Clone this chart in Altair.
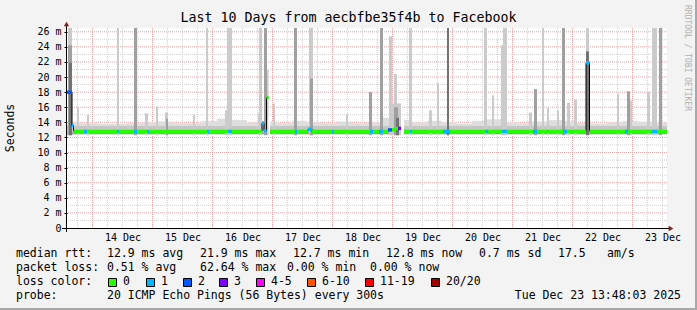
import altair as alt
import pandas as pd

MONO = "DejaVu Sans Mono"

# ---------------- time axis: hours since Sat 13 Dec 2025 13:48 (10 days) ----------------
DAY_LABELS = ["14 Dec", "15 Dec", "16 Dec", "17 Dec", "18 Dec",
              "19 Dec", "20 Dec", "21 Dec", "22 Dec", "23 Dec"]
LABEL_HOURS = [22.2 + 24 * i for i in range(10)]      # noon of each day
MIDNIGHT_HOURS = [10.2 + 24 * i for i in range(10)]   # major grid
SIXH_HOURS = [round(4.2 + 6 * i, 1) for i in range(40)]  # minor grid

# ---------------- smoke: general spread band (6 h bins) ----------------
BAND_TOP = [14.0, 13.9, 13.8, 13.8, 13.9, 14.0, 14.1, 13.9, 13.9, 14.2,
            14.5, 14.3, 14.0, 14.1, 13.9, 14.2, 14.0, 13.9, 14.1, 13.9,
            14.0, 14.6, 14.3, 14.0, 14.2, 14.0, 13.8, 14.2, 14.4, 14.0,
            13.9, 14.1, 14.3, 14.2, 13.9, 13.8, 14.0, 14.2, 14.1, 14.0]
BAND_BOTTOM = 12.3
CORE_BOTTOM = 12.45
CORE_TOP = 13.5

# ---------------- smoke: individual spikes ----------------
SPIKE_START = [0.4, 0.4, 0.8, 4.0, 8.0, 20.0, 26.8, 31.2, 35.6, 39.2, 39.6, 50.4,
               55.6, 63.2, 64.0, 76.4, 76.8, 78.8, 79.8, 82.4, 90.8, 96.8, 97.2,
               111.6, 120.8, 125.2, 128.8, 129.2, 130.8, 130.8, 131.6, 136.8,
               144.8, 148.0, 152.0, 166.8, 170.0, 173.6, 174.4, 184.8, 186.8,
               190.0, 192.0, 196.0, 198.0, 200.0, 202.8, 207.6, 207.6, 220.0,
               224.0, 225.2, 232.0, 234.0, 236.8]
SPIKE_WIDTH = [1.6, 1.6, 1.2, 0.8, 0.8, 0.8, 1.2, 1.2, 0.8, 1.2, 0.8, 0.8,
               0.8, 0.8, 2.0, 0.8, 1.2, 1.2, 0.8, 0.8, 1.2, 1.6, 1.2,
               0.8, 1.2, 1.2, 1.2, 4.4, 1.2, 1.6, 1.2, 1.2,
               1.2, 0.8, 0.8, 1.2, 0.8, 0.8, 1.6, 1.2, 1.2,
               0.8, 0.8, 0.8, 1.2, 1.2, 1.2, 1.2, 1.2, 0.8,
               1.2, 0.8, 1.2, 2.0, 1.2]
SPIKE_TOP = [27, 24.2, 21.9, 16.0, 15.0, 27, 27, 15.2, 16.1, 15.3, 14.5, 15.0,
             27, 15.6, 27, 15.2, 27, 27, 21.0, 16.5, 27, 27, 19.8,
             15.0, 18.0, 27, 25.4, 16.5, 20.4, 16.0, 14.6, 27,
             15.6, 19.2, 27, 27, 17.6, 24.2, 27, 15.3, 18.4,
             27, 15.9, 15.6, 27, 16.6, 17.0, 27, 23.4, 17.8,
             18.1, 16.9, 18.0, 27, 27]
SPIKE_SHADE = ["L", "M", "D", "L", "L", "L", "M", "L", "L", "L", "M", "L",
               "L", "L", "L", "L", "L", "M", "L", "L", "M", "L", "M",
               "L", "M", "M", "L", "L", "L", "M", "D", "L",
               "L", "L", "D", "L", "L", "L", "L", "L", "M",
               "L", "L", "L", "M", "L", "L", "L", "D", "L",
               "M", "L", "L", "L", "M"]
SHADE_COLOR = {"L": "#cbcbcb", "M": "#a0a0a0", "D": "#737373"}
SHADE_ORDER = {"L": 0, "M": 1, "D": 2}

# ---------------- median rtt (ms) step series; None = no data ----------------
MED_T = [0.0, 2.0, 2.6, 78.0, 78.8, 79.8, 80.6, 81.2, 96.4, 98.0,
         128.4, 131.2, 133.6, 134.8, 207.6, 209.0]
MED_V = [18.0, 13.6, 12.8, 13.9, 12.9, 17.3, None, 12.8, 13.1, 12.8,
         13.0, 13.2, None, 12.8, 21.9, 12.8]
T_END = 240.0

# ---------------- packet loss classes along the median ----------------
LOSS_START = [0.0, 2.0, 6.8, 20.0, 26.8, 32.0, 56.0, 64.4, 78.0, 78.8, 91.2, 96.4,
              106.0, 121.2, 124.8, 128.4, 132.4, 137.2, 150.4, 167.2, 174.0,
              186.4, 192.0, 198.4, 207.6, 223.2, 234.0]
LOSS_END = [2.0, 2.6, 8.0, 20.8, 28.0, 32.8, 56.8, 66.0, 78.8, 79.8, 92.0, 98.0,
            106.8, 122.4, 126.4, 130.0, 133.6, 138.0, 153.2, 168.4, 176.0,
            188.0, 192.4, 200.0, 209.0, 224.4, 236.0]
LOSS_CLASS = [2, 1, 1, 1, 1, 1, 1, 1, 1, 1, 1, 1,
              1, 1, 1, 2, 3, 1, 1, 1, 1,
              1, 1, 1, 1, 1, 1]
LOSS_COLORS = ["#26ff00", "#00b8ff", "#0059ff", "#7e00ff",
               "#ff00ff", "#ff5500", "#ff0000", "#a10000"]
LOSS_LABELS = ["0", "1", "2", "3", "4-5", "6-10", "11-19", "20/20"]

# ---------------- legend texts ----------------
TITLE = "Last 10 Days from aecbfbe35f4b to Facebook"
ROW1 = [(16, "median rtt:"), (107, "12.9 ms avg"), (200, "21.9 ms max"),
        (293, "12.7 ms min"), (386, "12.8 ms now"), (479, "0.7 ms sd"),
        (558, "17.5"), (607, "am/s")]
ROW2 = [(16, "packet loss:"), (107, "0.51 % avg"), (200, "62.64 % max"),
        (287, "0.00 % min"), (370, "0.00 % now")]
ROW3_LABEL = "loss color:"
SWATCH_X = [108, 146, 183, 219, 256, 307, 365, 431]
ROW4 = [(16, "probe:"), (107, "20 ICMP Echo Pings (56 Bytes) every 300s")]
STAMP = "Tue Dec 23 13:48:03 2025"

# ======================= build tables =======================
LEFT, TOP = 67, 28
xs = alt.Scale(domain=[0, 240], nice=False, zero=False)
ys = alt.Scale(domain=[0, 26.5], nice=False, zero=True)

band = pd.DataFrame({
    "t0": [6 * i for i in range(40)],
    "t1": [6 * i + 6 for i in range(40)],
    "y0": [BAND_BOTTOM] * 40,
    "y1": BAND_TOP,
})
core = pd.DataFrame({"t0": [0], "t1": [T_END], "y0": [CORE_BOTTOM], "y1": [CORE_TOP]})
darkline = pd.DataFrame({"t0": [0], "t1": [T_END], "y0": [12.5], "y1": [12.62]})

spikes = pd.DataFrame({
    "t0": SPIKE_START,
    "t1": [s + w for s, w in zip(SPIKE_START, SPIKE_WIDTH)],
    "y0": [BAND_BOTTOM] * len(SPIKE_START),
    "y1": SPIKE_TOP,
    "col": [SHADE_COLOR[s] for s in SPIKE_SHADE],
    "ord": [SHADE_ORDER[s] for s in SPIKE_SHADE],
}).sort_values("ord", kind="stable")

# gaps (no data)
gaps = []
for i, v in enumerate(MED_V):
    if v is None:
        gaps.append((MED_T[i], MED_T[i + 1]))
gap_df = pd.DataFrame({"t0": [g[0] for g in gaps], "t1": [g[1] for g in gaps],
                       "y0": [12.2] * len(gaps), "y1": [14.7] * len(gaps)})


def median_at(t):
    val = None
    for mt, mv in zip(MED_T, MED_V):
        if mt <= t + 1e-9:
            val = mv
    return val


def loss_at(t):
    for a, b, c in zip(LOSS_START, LOSS_END, LOSS_CLASS):
        if a - 1e-9 <= t < b - 1e-9:
            return c
    return 0


bps = sorted(set(MED_T + LOSS_START + LOSS_END + [T_END]))
seg_rows = []
for a, b in zip(bps[:-1], bps[1:]):
    m = median_at(a)
    if m is None:
        continue
    seg_rows.append({"t0": a, "t1": b, "y0": m - 0.23, "y1": m + 0.23,
                     "col": LOSS_COLORS[loss_at(a)]})
loss_df = pd.DataFrame(seg_rows)

line_rows = []
grp = 0
ends = MED_T[1:] + [T_END]
for a, b, v in zip(MED_T, ends, MED_V):
    if v is None:
        grp += 1
        continue
    line_rows.append({"t": a, "v": v, "g": grp})
    line_rows.append({"t": b, "v": v, "g": grp})
line_df = pd.DataFrame(line_rows)

# ======================= layers =======================
x_lab_expr = "[" + ",".join("'%s'" % d for d in DAY_LABELS) + "][round((datum.value - 22.2) / 24)]"
y_lab_expr = "datum.value == 0 ? '0\u00a0\u00a0' : datum.value + ' m'"

base = alt.Chart(band).mark_rect(color="#dedede", clip=True).encode(
    x=alt.X("t0:Q", scale=xs, axis=alt.Axis(
        values=LABEL_HOURS, labelExpr=x_lab_expr, grid=False, ticks=False,
        domain=False, labelFont=MONO, labelFontSize=10, labelColor="black",
        labelPadding=4, title=None, labelFlush=False)),
    x2="t1:Q",
    y=alt.Y("y0:Q", scale=ys, axis=alt.Axis(
        values=list(range(0, 27, 2)), labelExpr=y_lab_expr, grid=False,
        domain=False, tickSize=3, tickColor="black", labelFont=MONO,
        labelFontSize=10, labelColor="black", labelPadding=3, title=None)),
    y2="y1:Q",
)


def rules_x(vals, color):
    return alt.Chart(pd.DataFrame({"gx": vals})).mark_rule(
        color=color, strokeDash=[1, 1], strokeWidth=1).encode(
        x=alt.X("gx:Q", scale=xs, axis=None))


def rules_y(vals, color):
    return alt.Chart(pd.DataFrame({"gy": vals})).mark_rule(
        color=color, strokeDash=[1, 1], strokeWidth=1).encode(
        y=alt.Y("gy:Q", scale=ys, axis=None))


minor_x = [v for v in SIXH_HOURS if all(abs(v - m) > 0.01 for m in MIDNIGHT_HOURS)]
grid_layers = [
    rules_x(minor_x, "#d2d2d2"),
    rules_y(list(range(1, 27, 2)), "#d2d2d2"),
    rules_x(MIDNIGHT_HOURS, "#e8a4a4"),
    rules_y(list(range(2, 27, 2)), "#e8a4a4"),
]


def rects(df, **kw):
    enc = dict(x=alt.X("t0:Q", scale=xs, axis=None), x2="t1:Q",
               y=alt.Y("y0:Q", scale=ys, axis=None), y2="y1:Q")
    if "col" in df.columns:
        enc["color"] = alt.Color("col:N", scale=None, legend=None)
    return alt.Chart(df).mark_rect(clip=True, **kw).encode(**enc)


spike_layer = rects(spikes)
core_layer = rects(core, color="#c6c6c6")
dark_layer = rects(darkline, color="#8a8a8a")
gap_layer = rects(gap_df, color="white")

median_line = alt.Chart(line_df).mark_line(color="black", strokeWidth=1, clip=True).encode(
    x=alt.X("t:Q", scale=xs, axis=None),
    y=alt.Y("v:Q", scale=ys, axis=None),
    detail="g:N",
)
loss_layer = rects(loss_df)

ONE = pd.DataFrame({"a": [0]})


def deco_rect(x0, x1, y0, y1, color, stroke=None):
    kw = {"color": color}
    if stroke:
        kw.update(stroke=stroke, strokeWidth=1)
    return alt.Chart(ONE).mark_rect(**kw).encode(
        x=alt.value(x0), x2=alt.value(x1), y=alt.value(y0), y2=alt.value(y1))


# axis lines and arrows (decoration)
x_axis_line = alt.Chart(ONE).mark_rule(color="black").encode(
    x=alt.value(-5), x2=alt.value(604), y=alt.value(200.5))
y_axis_line = alt.Chart(ONE).mark_rule(color="black").encode(
    x=alt.value(-0.5), y=alt.value(-3), y2=alt.value(204))
arrow_up = alt.Chart(ONE).mark_point(
    shape="triangle-up", filled=True, size=28, color="#8b1a1a", opacity=1).encode(
    x=alt.value(-0.5), y=alt.value(-4))
arrow_right = alt.Chart(ONE).mark_point(
    shape="triangle-right", filled=True, size=28, color="#8b1a1a", opacity=1).encode(
    x=alt.value(604), y=alt.value(200.5))


def text_at(x, y, txt, size=11.5, align="left", angle=0, color="black"):
    return alt.Chart(pd.DataFrame({"s": [txt]})).mark_text(
        font=MONO, fontSize=size, align=align, baseline="middle",
        angle=angle, color=color).encode(
        x=alt.value(x - LEFT), y=alt.value(y - TOP), text="s:N")


texts = [
    text_at(348.5, 18, TITLE, size=13.3, align="center"),
    text_at(11, 128, "Seconds", size=11.5, align="center", angle=270),
    text_at(687, 58, "RRDTOOL / TOBI OETIKER", size=8, align="center",
            angle=90, color="#b0b0b0"),
]
for x, s in ROW1:
    texts.append(text_at(x, 254, s))
for x, s in ROW2:
    texts.append(text_at(x, 268, s))
texts.append(text_at(16, 282, ROW3_LABEL))
for x, lab in zip(SWATCH_X, LOSS_LABELS):
    texts.append(text_at(x + 15, 282, lab))
for x, s in ROW4:
    texts.append(text_at(x, 296, s))
texts.append(text_at(681, 296, STAMP, align="right"))

swatches = [deco_rect(x - LEFT + 0.5, x - LEFT + 8.5, 278.5 - TOP, 286.5 - TOP, c, stroke="black")
            for x, c in zip(SWATCH_X, LOSS_COLORS)]

frame_layers = [
    deco_rect(697 - LEFT - 2, 697 - LEFT, -TOP, 310 - TOP, "#a8a8a8"),
    deco_rect(-LEFT, 697 - LEFT, 310 - TOP - 2, 310 - TOP, "#a8a8a8"),
]

chart = alt.layer(
    *grid_layers,
    base, core_layer, dark_layer, spike_layer, gap_layer,
    median_line, loss_layer,
    x_axis_line, y_axis_line, arrow_up, arrow_right,
    *swatches, *texts, *frame_layers,
).resolve_axis(x="independent", y="independent").properties(
    width=600, height=200,
    padding={"left": LEFT, "top": TOP, "right": 30, "bottom": 82},
    autosize="none",
    background="#f3f3f3",
).configure_view(fill="white", stroke=None)

chart.save("out.html", embed_options={"renderer": "svg", "actions": False})
